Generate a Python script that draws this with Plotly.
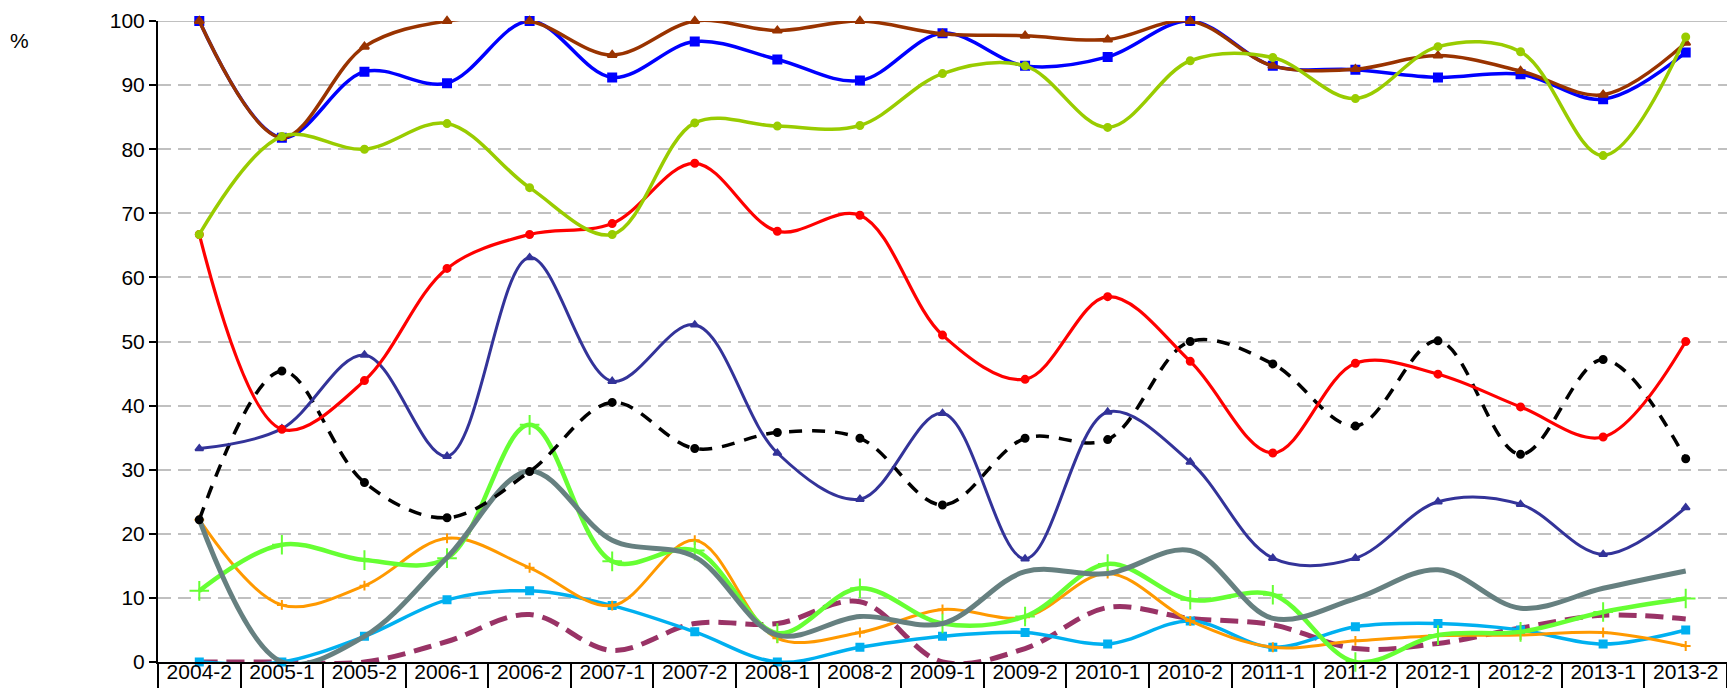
import plotly.graph_objects as go

categories = ["2004-2", "2005-1", "2005-2", "2006-1", "2006-2", "2007-1", "2007-2",
              "2008-1", "2008-2", "2009-1", "2009-2", "2010-1", "2010-2", "2011-1",
              "2011-2", "2012-1", "2012-2", "2013-1", "2013-2"]

blue_vals = [100, 81.8, 92.1, 90.3, 100, 91.2, 96.8, 94.0, 90.7, 98.1, 93.0, 94.4, 100,
             93.0, 92.4, 91.2, 91.7, 87.8, 95.1]
brown_vals = [100, 81.8, 96.0, 100, 100, 94.7, 100, 98.5, 100, 98.0, 97.7, 97.1, 100,
              93.0, 92.5, 94.6, 92.2, 88.5, 96.6]
yellowgreen_vals = [66.7, 82.0, 80.0, 84.0, 74.0, 66.7, 84.1, 83.6, 83.7, 91.8, 93.0, 83.4,
                    93.8, 94.3, 87.9, 96.0, 95.2, 79.0, 97.5]
red_vals = [66.7, 36.3, 43.9, 61.4, 66.7, 68.4, 77.8, 67.2, 69.7, 51.0, 44.1, 57.0, 46.9,
            32.6, 46.6, 44.9, 39.8, 35.1, 50.0]
navy_vals = [33.3, 36.4, 47.9, 32.1, 63.1, 43.8, 52.6, 32.6, 25.4, 38.8, 16.1, 39.0, 31.2,
             16.2, 16.2, 25.0, 24.6, 16.8, 24.1]
black_vals = [22.2, 45.4, 28.0, 22.5, 29.7, 40.5, 33.3, 35.8, 34.9, 24.5, 34.9, 34.7, 50.0,
              46.5, 36.8, 50.1, 32.4, 47.2, 31.7]
gray_vals = [22.2, 0.0, 4.0, 16.3, 29.8, 19.0, 16.4, 4.2, 7.1, 6.0, 14.1, 13.8, 17.4, 6.8,
             9.9, 14.4, 8.4, 11.5, 14.2]
lightgreen_vals = [11.1, 18.3, 15.9, 16.2, 37.0, 15.7, 17.4, 4.5, 11.5, 6.0, 7.1, 15.3, 9.7,
                   10.5, 0.0, 4.2, 4.7, 7.8, 9.9]
orange_vals = [22.2, 8.9, 11.9, 19.3, 14.7, 8.8, 19.0, 3.7, 4.6, 8.2, 7.0, 13.8, 6.4, 2.3,
               3.3, 4.1, 4.2, 4.6, 2.5]
skyblue_vals = [0.0, 0.0, 4.0, 9.7, 11.1, 8.8, 4.7, 0.0, 2.3, 4.0, 4.6, 2.8, 6.4, 2.3, 5.5,
                6.0, 5.0, 2.8, 5.0]
purple_vals = [0.0, 0.0, 0.0, 3.2, 7.4, 1.8, 6.0, 6.0, 9.4, 0.0, 2.1, 8.5, 6.8, 5.8, 2.1,
               2.9, 5.3, 7.3, 6.7]

y_ticks = [0, 10, 20, 30, 40, 50, 60, 70, 80, 90, 100]

series = [
    # values, color, width, dash, marker symbol, marker size
    (purple_vals, "#993366", 5, "18px,9px", None, 0),
    (skyblue_vals, "#00B0F0", 3.5, "solid", "square", 7),
    (orange_vals, "#FF9900", 3, "solid", "cross-thin", 7),
    (lightgreen_vals, "#66FF33", 4.5, "solid", "cross-thin", 14),
    (gray_vals, "#668080", 5, "solid", None, 0),
    (black_vals, "#000000", 3.5, "13px,10px", "circle", 7),
    (navy_vals, "#333399", 3, "solid", "triangle-up", 7),
    (red_vals, "#FF0000", 3.2, "solid", "circle", 7),
    (blue_vals, "#0000FF", 3.5, "solid", "square", 8),
    (brown_vals, "#993300", 3.5, "solid", "triangle-up", 8),
    (yellowgreen_vals, "#99CC00", 3.5, "solid", "circle", 7),
]

fig = go.Figure()
for vals, color, width, dash, sym, msize in series:
    if sym is None:
        mode = "lines"
        marker = None
    else:
        mode = "lines+markers"
        marker = dict(symbol=sym, size=msize, color=color,
                      line=dict(color=color, width=2))
    fig.add_trace(go.Scatter(
        x=categories, y=vals, mode=mode,
        line=dict(color=color, width=width, dash=dash, shape="spline", smoothing=1),
        marker=marker, cliponaxis=False, showlegend=False, hoverinfo="skip"))

fig.update_layout(
    width=1727, height=688,
    margin=dict(l=158, r=0, t=21, b=26),
    paper_bgcolor="white", plot_bgcolor="white",
    font=dict(family="Liberation Sans, Arial, sans-serif", size=21, color="black"),
    showlegend=False,
    xaxis=dict(
        type="category", range=[-0.5, 18.5],
        showline=True, linecolor="black", linewidth=2,
        ticks="outside", ticklen=26, tickwidth=2, tickcolor="black",
        tickson="boundaries", ticklabelstandoff=-10,
        showgrid=False, zeroline=False,
        tickfont=dict(size=21),
    ),
    yaxis=dict(
        range=[0, 100], tickvals=y_ticks,
        showline=True, linecolor="black", linewidth=2,
        ticks="outside", ticklen=7, tickwidth=2, tickcolor="black",
        showgrid=True, gridcolor="#C0C0C0", gridwidth=2, griddash="13px,7px",
        zeroline=False, tickfont=dict(size=21),
    ),
    shapes=[dict(type="line", xref="paper", yref="y", x0=0, x1=1, y0=100, y1=100,
                 line=dict(color="#C0C0C0", width=2), layer="below")],
    annotations=[dict(text="%", xref="paper", yref="paper", x=-0.088, y=0.969,
                      xanchor="center", yanchor="middle", showarrow=False,
                      font=dict(size=21))],
)

fig.write_html("out.html",
               config={"displayModeBar": False},
               post_script="document.body.style.margin='0';document.body.style.overflow='hidden';")
